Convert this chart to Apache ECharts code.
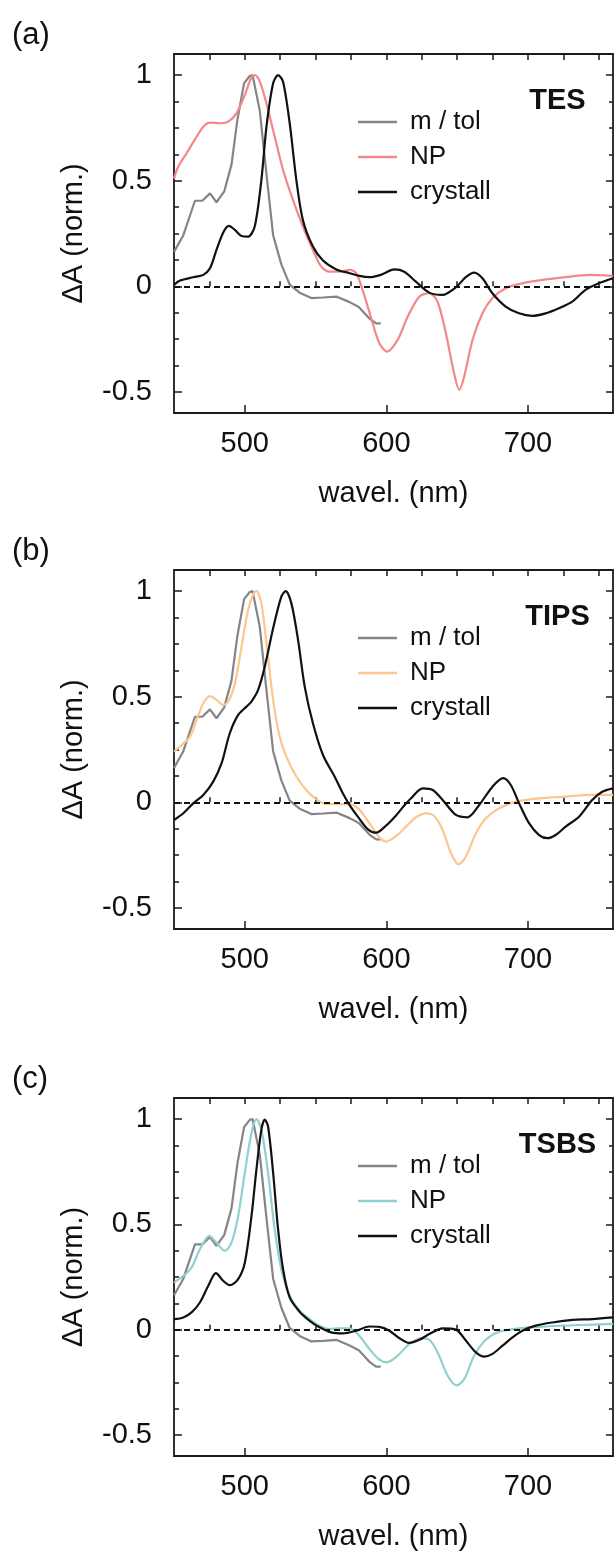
<!DOCTYPE html>
<html>
<head>
<meta charset="utf-8">
<script src="https://cdn.jsdelivr.net/npm/echarts@6/dist/echarts.min.js"></script>
<style>
html,body{margin:0;padding:0;background:#fff;}
#chart{width:614px;height:1552px;}
</style>
</head>
<body>
<div id="chart"></div>
<script>
// ---------- data ----------
const panelLabels = ['(a)', '(b)', '(c)'];
const compounds = ['TES', 'TIPS', 'TSBS'];
const seriesNames = ['m / tol', 'NP', 'crystall'];
const npColors = ['#f4878a', '#fdc68e', '#8fd0d0'];

const xLabelTicks = [500, 600, 700];
const xMinorTicks = [475, 525, 550, 575, 625, 650, 675, 725, 750];
const xAllTicks = [475, 500, 525, 550, 575, 600, 625, 650, 675, 700, 725, 750];
const yLabelTicks = [-0.5, 0, 0.5, 1];
const yMinorTicks = [-0.375, -0.25, -0.125, 0.125, 0.25, 0.375, 0.625, 0.75, 0.875];

// m / tol (solution) spectrum, same in all panels
const mtol = [[450,0.163],[456.6,0.242],[464.8,0.405],[470,0.405],[475.4,0.44],[480,0.398],[485.5,0.45],[490.6,0.576],[494.8,0.79],[499.5,0.962],[503.5,0.996],[505.5,1.0],[510.6,0.83],[515.3,0.53],[520,0.242],[525.8,0.104],[531.7,0.008],[538.7,-0.03],[547,-0.056],[555.2,-0.053],[565,-0.049],[574,-0.075],[580.5,-0.098],[588,-0.153],[592.7,-0.176],[596,-0.176]];

// (a) TES
const npA = [[450,0.51],[453,0.567],[458.9,0.63],[466,0.709],[470.7,0.756],[475.4,0.775],[482.4,0.772],[488.3,0.78],[494.1,0.819],[500,0.906],[504.7,0.99],[507,1.0],[510.6,0.969],[515.3,0.866],[521.1,0.709],[527,0.551],[534,0.409],[541,0.283],[548.1,0.172],[554,0.093],[559.9,0.069],[566.9,0.069],[574,0.078],[578.6,0.062],[583.3,-0.02],[589.2,-0.15],[595,-0.27],[600.5,-0.309],[607.9,-0.254],[615,-0.144],[623.2,-0.049],[630.2,-0.033],[636.1,-0.073],[642,-0.223],[647.8,-0.412],[651.4,-0.491],[654.9,-0.428],[660.8,-0.254],[667.8,-0.128],[674.8,-0.057],[684.2,-0.009],[696,0.014],[710,0.03],[726.5,0.043],[743,0.054],[760,0.049]];
const crA = [[450,0.006],[454.2,0.027],[463.6,0.043],[470.7,0.054],[475.4,0.085],[480,0.172],[484.7,0.254],[488.7,0.286],[493,0.267],[497.7,0.238],[502.3,0.235],[507,0.283],[511.7,0.503],[515.3,0.756],[520,0.961],[523.5,1.0],[527,0.969],[531.7,0.772],[536.4,0.503],[541,0.314],[548.1,0.188],[555.2,0.122],[564.6,0.08],[574,0.062],[581,0.049],[588,0.043],[596,0.054],[605.6,0.08],[612.6,0.069],[620.8,0.022],[630.2,-0.03],[639.6,-0.041],[649,-0.005],[656,0.043],[661.9,0.065],[667.8,0.038],[674.8,-0.033],[684.2,-0.096],[693.6,-0.128],[703,-0.14],[712.4,-0.128],[721.8,-0.104],[731.2,-0.073],[740.6,-0.017],[750,0.014],[760,0.038]];

// (b) TIPS
const npB = [[450,0.24],[455.4,0.271],[461.3,0.311],[466,0.39],[470.7,0.469],[475.4,0.503],[480,0.485],[484.7,0.461],[488.3,0.477],[493,0.563],[497.7,0.737],[502.3,0.911],[506.3,0.99],[508.2,1.0],[511.7,0.942],[515.3,0.753],[520,0.485],[524.6,0.311],[529.3,0.216],[536.4,0.122],[543.4,0.058],[550.5,0.014],[557.5,-0.009],[564.6,-0.009],[574,-0.009],[581,-0.036],[588,-0.099],[595,-0.165],[599.8,-0.186],[606.8,-0.16],[613.9,-0.115],[620.9,-0.071],[627.9,-0.052],[633.8,-0.065],[639.7,-0.131],[645.6,-0.241],[651,-0.294],[656.1,-0.257],[663.2,-0.147],[670.2,-0.076],[679.6,-0.028],[691.3,0.003],[707.8,0.019],[726.5,0.027],[745.3,0.035],[760,0.035]];
const crB = [[450,-0.084],[456.6,-0.052],[463.6,-0.005],[470.7,0.035],[477.7,0.098],[483.6,0.185],[489.4,0.327],[495.3,0.414],[501.2,0.453],[504.7,0.477],[509.4,0.532],[514.1,0.642],[520,0.824],[525.8,0.974],[528.9,1.0],[532.9,0.942],[537.6,0.769],[542.3,0.548],[548.1,0.374],[555.2,0.224],[563.4,0.122],[569.2,0.043],[574,-0.013],[579.8,-0.068],[586.9,-0.128],[592.7,-0.144],[599.8,-0.11],[606.8,-0.062],[612,-0.02],[617.4,0.019],[625.6,0.066],[632.7,0.058],[639.7,0.011],[649.1,-0.06],[657.3,-0.071],[665.5,-0.013],[674.9,0.074],[682.4,0.114],[687.8,0.082],[693.7,-0.005],[700.7,-0.099],[707.8,-0.155],[713.7,-0.17],[719.5,-0.155],[726.6,-0.115],[736,-0.068],[745.3,0.011],[752.4,0.05],[760,0.066]];

// (c) TSBS
const npC = [[450,0.224],[456.6,0.255],[462.4,0.295],[468.3,0.382],[474.9,0.445],[480,0.413],[485.9,0.374],[490.6,0.413],[495.3,0.539],[500,0.745],[504.7,0.934],[508.2,1.0],[511.7,0.95],[516.4,0.745],[521.1,0.476],[525.8,0.287],[531.7,0.161],[538.7,0.09],[545.8,0.05],[552.8,0.019],[559.9,0.003],[566.9,0.006],[574,0.006],[579.8,-0.021],[588,-0.092],[595,-0.142],[600.5,-0.155],[608,-0.123],[616.2,-0.068],[624.4,-0.041],[630.3,-0.048],[636.2,-0.108],[643.2,-0.218],[649.6,-0.265],[655,-0.234],[662,-0.123],[670.2,-0.048],[679.6,-0.01],[693.7,0.006],[712.5,0.015],[735.9,0.022],[760,0.027]];
const crC = [[450,0.05],[456.6,0.058],[462.4,0.082],[468.3,0.129],[474.2,0.208],[479.6,0.268],[484.7,0.232],[489.4,0.211],[495.3,0.24],[500,0.318],[504.7,0.539],[508.2,0.76],[511.7,0.95],[514.1,0.997],[516.4,0.966],[520,0.745],[523.5,0.476],[527,0.287],[531.7,0.153],[538.7,0.085],[545.8,0.042],[552.8,0.011],[561,-0.013],[569.2,-0.018],[578.6,-0.005],[588,0.015],[595,0.013],[602.1,-0.005],[609.2,-0.041],[616.2,-0.063],[623.3,-0.048],[630.3,-0.021],[639.7,0.006],[649.1,0],[656.1,-0.052],[663.2,-0.108],[669,-0.128],[674.9,-0.115],[682,-0.076],[689,-0.037],[696,-0.005],[705.4,0.019],[717.2,0.034],[731.3,0.046],[745.3,0.05],[760,0.058]];

const npData = [npA, npB, npC];
const crData = [crA, crB, crC];

// ---------- layout ----------
const FONT = '"Liberation Sans", Arial, Helvetica, sans-serif';
const gridTops = [54, 570, 1098];
const GRID_LEFT = 174, GRID_W = 439, GRID_H = 359;
const XMIN = 450, XMAX = 760, YMIN = -0.6, YMAX = 1.1;
const AX = '#1a1a1a';

const grids = [], xAxes = [], yAxes = [], series = [], legends = [], graphics = [];

gridTops.forEach((top, i) => {
  grids.push({left: GRID_LEFT, top: top, width: GRID_W, height: GRID_H});
  const base = {type: 'value', gridIndex: i, min: XMIN, max: XMAX, splitLine: {show: false}, axisLabel: {show: false}, axisLine: {show: false}, axisTick: {show: false}};
  xAxes.push(Object.assign({}, base, {
    position: 'bottom',
    axisLine: {show: true, onZero: false, lineStyle: {color: AX, width: 1.8}},
    axisTick: {show: true, inside: true, length: 8, customValues: xLabelTicks, lineStyle: {color: AX, width: 1.5}},
    axisLabel: {show: true, customValues: xLabelTicks, margin: 16, color: '#111', fontSize: 29, fontFamily: FONT},
    name: 'wavel. (nm)', nameLocation: 'middle', nameGap: 66,
    nameTextStyle: {color: '#111', fontSize: 29, fontFamily: FONT}
  }));
  xAxes.push(Object.assign({}, base, {
    position: 'bottom',
    axisTick: {show: true, inside: true, length: 5, customValues: xMinorTicks, lineStyle: {color: AX, width: 1.5}}
  }));
  xAxes.push(Object.assign({}, base, {
    position: 'top',
    axisLine: {show: true, onZero: false, lineStyle: {color: AX, width: 1.8}},
    axisTick: {show: true, inside: true, length: 6, customValues: xAllTicks, lineStyle: {color: AX, width: 1.5}}
  }));

  const ybase = {type: 'value', gridIndex: i, min: YMIN, max: YMAX, splitLine: {show: false}, axisLabel: {show: false}, axisLine: {show: false}, axisTick: {show: false}};
  yAxes.push(Object.assign({}, ybase, {
    position: 'left',
    axisLine: {show: true, onZero: false, lineStyle: {color: AX, width: 1.8}},
    axisTick: {show: true, inside: true, length: 8, customValues: yLabelTicks, lineStyle: {color: AX, width: 1.5}},
    axisLabel: {show: true, customValues: yLabelTicks, margin: 22, color: '#111', fontSize: 29, fontFamily: FONT},
    name: 'ΔA (norm.)', nameLocation: 'middle', nameGap: 86, nameRotate: 90,
    nameTextStyle: {color: '#111', fontSize: 29, fontFamily: FONT}
  }));
  yAxes.push(Object.assign({}, ybase, {
    position: 'left',
    axisTick: {show: true, inside: true, length: 5, customValues: yMinorTicks, lineStyle: {color: AX, width: 1.5}}
  }));
  yAxes.push(Object.assign({}, ybase, {
    position: 'right',
    axisLine: {show: true, onZero: false, lineStyle: {color: AX, width: 1.8}},
    axisTick: {show: true, inside: true, length: 7, customValues: yLabelTicks, lineStyle: {color: AX, width: 1.5}}
  }));
  yAxes.push(Object.assign({}, ybase, {
    position: 'right',
    axisTick: {show: true, inside: true, length: 4, customValues: yMinorTicks, lineStyle: {color: AX, width: 1.5}}
  }));

  const tag = 'p' + i + '|';
  const xi = 3 * i, yi = 4 * i;
  series.push({
    name: tag + seriesNames[0], type: 'line', xAxisIndex: xi, yAxisIndex: yi,
    data: mtol, showSymbol: false, smooth: false,
    lineStyle: {color: '#858585', width: 2.2}, itemStyle: {color: '#858585'}, z: 3
  });
  series.push({
    name: tag + seriesNames[1], type: 'line', xAxisIndex: xi, yAxisIndex: yi,
    data: npData[i], showSymbol: false, smooth: 0.3,
    lineStyle: {color: npColors[i], width: 2.2}, itemStyle: {color: npColors[i]}, z: 4
  });
  series.push({
    name: tag + seriesNames[2], type: 'line', xAxisIndex: xi, yAxisIndex: yi,
    data: crData[i], showSymbol: false, smooth: 0.3,
    lineStyle: {color: '#111111', width: 2.2}, itemStyle: {color: '#111111'}, z: 5,
    markLine: {
      silent: true, symbol: 'none', label: {show: false}, animation: false,
      lineStyle: {color: '#111', width: 1.8, type: [6, 4]},
      data: [{yAxis: 0}]
    }
  });

  legends.push({
    data: seriesNames.map(n => tag + n),
    formatter: n => n.split('|')[1],
    orient: 'vertical', left: 353, top: top + 50,
    icon: 'rect', itemWidth: 39, itemHeight: 2.7, itemGap: 9,
    selectedMode: false,
    textStyle: {color: '#111', fontSize: 26, fontFamily: FONT, padding: [0, 0, 0, 8]}
  });

  graphics.push({
    type: 'text', x: 12, y: top - 19,
    style: {text: panelLabels[i], fill: '#111', font: '31px ' + FONT, textVerticalAlign: 'middle'}
  });
  graphics.push({
    type: 'text', x: 557.5, y: top + 47,
    style: {text: compounds[i], fill: '#111', font: 'bold 29px ' + FONT, textAlign: 'center', textVerticalAlign: 'middle'}
  });
});

const chart = echarts.init(document.getElementById('chart'), null, {renderer: 'canvas'});
chart.setOption({
  animation: false,
  backgroundColor: '#ffffff',
  grid: grids,
  xAxis: xAxes,
  yAxis: yAxes,
  legend: legends,
  series: series,
  graphic: graphics
});
</script>
</body>
</html>
